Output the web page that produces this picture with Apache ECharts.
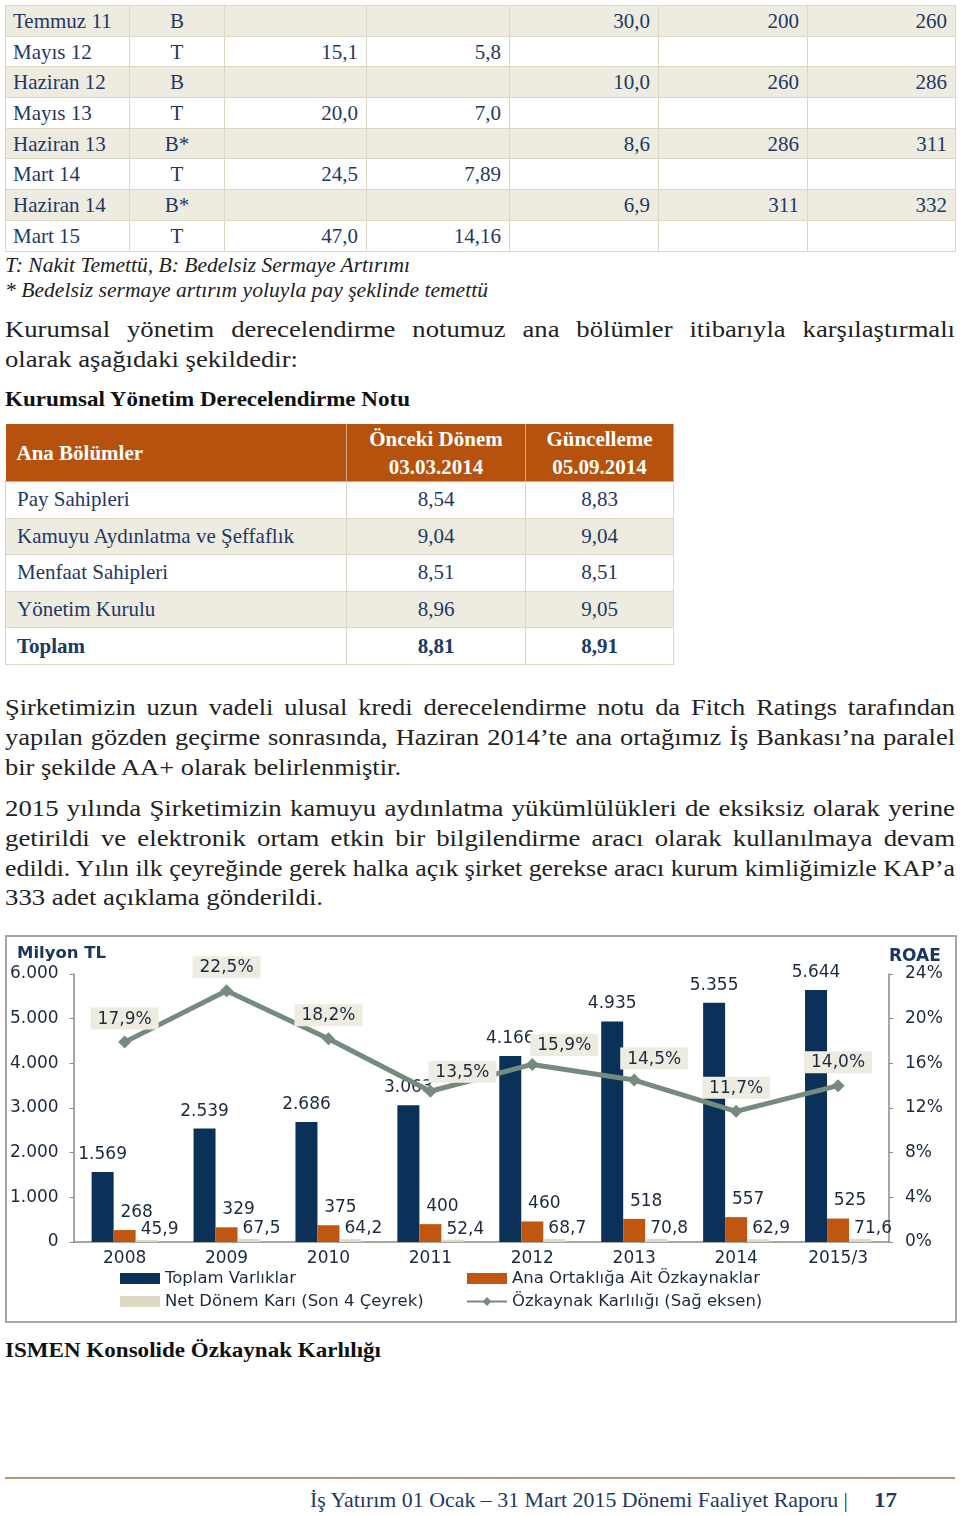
<!DOCTYPE html>
<html><head><meta charset="utf-8">
<script src="https://cdn.jsdelivr.net/npm/echarts@6/dist/echarts.min.js"></script>
<style>
html,body{margin:0;padding:0;}
body{width:960px;height:1516px;background:#fff;position:relative;overflow:hidden;font-family:"Liberation Serif",serif;}
.ln{position:absolute;white-space:nowrap;display:inline-block;left:5px;height:30px;line-height:30px;}
.body{font-size:24px;color:#222;}
table{border-collapse:collapse;position:absolute;table-layout:fixed;}
#t1{left:5px;top:5px;width:950px;font-size:21px;color:#1F3864;}
#t1 td{border:1px solid #DCD8C6;height:29.7px;padding:0 8px;text-align:right;line-height:20px;}
#t1 td:first-child{text-align:left;padding-left:7px;}
#t1 td:nth-child(2){text-align:center;}
#t1 tr:nth-child(odd) td{background:#EEECE1;}
#t2{left:5px;top:424px;width:668px;font-size:21px;color:#1F3864;}
#t2 th{background:#B6520D;color:#fff;font-weight:bold;border:1px solid #D7A27E;border-top:none;line-height:28px;height:57px;padding:0;}
#t2 th:first-child{text-align:left;padding-left:11px;border-left:none;}
#t2 td{border:1px solid #DCD8C6;height:35.6px;padding:0;text-align:center;}
#t2 td:first-child{text-align:left;padding-left:11px;}
#t2 tbody tr:nth-child(even) td{background:#EEECE1;}
#t2 tbody tr:last-child td{font-weight:bold;}
#chart{position:absolute;left:5px;top:935px;width:952px;height:388px;border:2px solid #A6A6A6;box-sizing:border-box;}
</style></head>
<body>
<table id="t1"><colgroup><col style="width:124px"><col style="width:95px"><col style="width:142px"><col style="width:143px"><col style="width:149px"><col style="width:149px"><col style="width:148px"></colgroup><tbody></tbody></table>
<div class="ln" style="top:250px;font-style:italic;font-size:20.5px;color:#222;" data-w="405">T: Nakit Temettü, B: Bedelsiz Sermaye Artırımı</div>
<div class="ln" style="top:275px;font-style:italic;font-size:20.5px;color:#222;" data-w="483">* Bedelsiz sermaye artırım yoluyla pay şeklinde temettü</div>

<div class="ln body" style="top:314px;" data-w="950" data-j="1" data-p="a">Kurumsal yönetim derecelendirme notumuz ana bölümler itibarıyla karşılaştırmalı</div>
<div class="ln body" style="top:344px;" data-w="293" data-last="a">olarak aşağıdaki şekildedir:</div>
<div class="ln" style="top:384px;font-size:22px;font-weight:bold;color:#111;" data-w="405">Kurumsal Yönetim Derecelendirme Notu</div>

<table id="t2"><colgroup><col style="width:341px"><col style="width:179px"><col style="width:148px"></colgroup>
<thead><tr><th>Ana Bölümler</th><th>Önceki Dönem<br>03.03.2014</th><th>Güncelleme<br>05.09.2014</th></tr></thead><tbody></tbody></table>

<div class="ln body" style="top:692px;" data-w="950" data-j="1" data-p="b">Şirketimizin uzun vadeli ulusal kredi derecelendirme notu da Fitch Ratings tarafından</div>
<div class="ln body" style="top:722px;" data-w="950" data-j="1" data-p="b">yapılan gözden geçirme sonrasında, Haziran 2014’te ana ortağımız İş Bankası’na paralel</div>
<div class="ln body" style="top:752px;" data-w="396" data-last="b">bir şekilde AA+ olarak belirlenmiştir.</div>
<div class="ln body" style="top:793px;" data-w="950" data-j="1" data-p="c">2015 yılında Şirketimizin kamuyu aydınlatma yükümlülükleri de eksiksiz olarak yerine</div>
<div class="ln body" style="top:823px;" data-w="950" data-j="1" data-p="c">getirildi ve elektronik ortam etkin bir bilgilendirme aracı olarak kullanılmaya devam</div>
<div class="ln body" style="top:853px;" data-w="950" data-j="1" data-p="c">edildi. Yılın ilk çeyreğinde gerek halka açık şirket gerekse aracı kurum kimliğimizle KAP’a</div>
<div class="ln body" style="top:882px;" data-w="318" data-last="c">333 adet açıklama gönderildi.</div>

<div id="chart"></div>

<div class="ln" style="top:1335px;font-size:22px;font-weight:bold;color:#111;" data-w="376">ISMEN Konsolide Özkaynak Karlılığı</div>
<div style="position:absolute;left:5px;top:1477px;width:950px;height:2px;background:#B99572;"></div>
<div class="ln" style="left:310px;top:1485px;font-size:22px;color:#1F3864;" data-w="538">İş Yatırım 01 Ocak – 31 Mart 2015 Dönemi Faaliyet Raporu |</div>
<div class="ln" style="left:874px;top:1485px;font-size:22px;font-weight:bold;color:#1F3864;" data-w="23">17</div>

<script>
// ---- Table data ----
const temettuRows = [
  ['Temmuz 11','B','','','30,0','200','260'],
  ['Mayıs 12','T','15,1','5,8','','',''],
  ['Haziran 12','B','','','10,0','260','286'],
  ['Mayıs 13','T','20,0','7,0','','',''],
  ['Haziran 13','B*','','','8,6','286','311'],
  ['Mart 14','T','24,5','7,89','','',''],
  ['Haziran 14','B*','','','6,9','311','332'],
  ['Mart 15','T','47,0','14,16','','','']
];
const kyBolumler = ['Pay Sahipleri','Kamuyu Aydınlatma ve Şeffaflık','Menfaat Sahipleri','Yönetim Kurulu','Toplam'];
const kyOnceki = ['8,54','9,04','8,51','8,96','8,81'];
const kyGuncel = ['8,83','9,04','8,51','9,05','8,91'];

// ---- Chart data ----
const years = ['2008','2009','2010','2011','2012','2013','2014','2015/3'];
const toplamVarliklar = [1569, 2539, 2686, 3063, 4166, 4935, 5355, 5644];
const anaOrtaklikOzkaynak = [268, 329, 375, 400, 460, 518, 557, 525];
const netDonemKari = [45.9, 67.5, 64.2, 52.4, 68.7, 70.8, 62.9, 71.6];
const roae = [17.9, 22.5, 18.2, 13.5, 15.9, 14.5, 11.7, 14.0];

// build tables
const tb1 = document.querySelector('#t1 tbody');
temettuRows.forEach(r => {
  const tr = document.createElement('tr');
  r.forEach(c => { const td = document.createElement('td'); td.textContent = c; tr.appendChild(td); });
  tb1.appendChild(tr);
});
const tb2 = document.querySelector('#t2 tbody');
kyBolumler.forEach((b, i) => {
  const tr = document.createElement('tr');
  [b, kyOnceki[i], kyGuncel[i]].forEach(c => { const td = document.createElement('td'); td.textContent = c; tr.appendChild(td); });
  tb2.appendChild(tr);
});

// fit text lines: last lines give the paragraph's horizontal scale, justified lines share it
const els = Array.from(document.querySelectorAll('[data-w]'));
const nat = new Map();
els.forEach(el => nat.set(el, el.getBoundingClientRect().width));
const pScale = {};
els.forEach(el => {
  if (el.dataset.last) pScale[el.dataset.last] = (+el.dataset.w) / nat.get(el);
});
els.forEach(el => {
  const target = +el.dataset.w, w = nat.get(el);
  el.style.transformOrigin = 'left center';
  if (el.dataset.j) {
    let s = pScale[el.dataset.p] || 1;
    if (w * s > target) s = target / w;
    const n = (el.textContent.match(/ /g) || []).length;
    el.style.transform = 'scaleX(' + s + ')';
    el.style.wordSpacing = ((target / s - w) / n) + 'px';
  } else {
    el.style.transform = 'scaleX(' + (target / w) + ')';
  }
});

// ---- Chart ----
const fmtInt = v => String(Math.round(v)).replace(/\B(?=(\d{3})+(?!\d))/g, '.');
const fmtDec1 = v => Number(v).toFixed(1).replace('.', ',');
const txt = '#1B2A3E';
const axisC = '#8A8A8A';
const roaeLabelOffsets = [[0,0],[0,0],[0,0],[32,4],[32,4],[20,2],[0,0],[0,0]];
const lblBase = { show: true, position: 'top', fontSize: 17, color: txt, fontFamily: 'DejaVu Sans' };

const chart = echarts.init(document.getElementById('chart'), null, { renderer: 'canvas' });
chart.setOption({
  animation: false,
  textStyle: { fontFamily: 'DejaVu Sans' },
  title: [
    { text: 'Milyon TL', left: 10, top: 8, padding: 0, textStyle: { fontSize: 16.5, fontWeight: 'bold', color: '#17375E', fontFamily: 'DejaVu Sans' } },
    { text: 'ROAE', left: 882, top: 11, padding: 0, textStyle: { fontSize: 17, fontWeight: 'bold', color: '#17375E', fontFamily: 'DejaVu Sans' } }
  ],
  legend: [
    { left: 113, top: 333, orient: 'vertical', itemGap: 6, itemWidth: 40, itemHeight: 11, padding: 0,
      textStyle: { fontSize: 16.5, color: txt, fontFamily: 'DejaVu Sans' },
      data: [{ name: 'Toplam Varlıklar', icon: 'rect' }, { name: 'Net Dönem Karı (Son 4 Çeyrek)', icon: 'rect' }] },
    { left: 459, top: 333, orient: 'vertical', itemGap: 6, itemWidth: 40, itemHeight: 11, padding: 0,
      textStyle: { fontSize: 16.5, color: txt, fontFamily: 'DejaVu Sans' },
      data: [{ name: 'Ana Ortaklığa Ait Özkaynaklar', icon: 'rect' }, { name: 'Özkaynak Karlılığı (Sağ eksen)' }] }
  ],
  grid: { left: 66, right: 66, top: 37, height: 268 },
  xAxis: {
    type: 'category', data: years,
    axisLine: { lineStyle: { color: axisC, width: 1.5 } },
    axisTick: { length: 6, lineStyle: { color: axisC } },
    axisLabel: { fontSize: 17, color: txt, margin: 8 }
  },
  yAxis: [
    { type: 'value', min: 0, max: 6000, interval: 1000,
      axisLine: { show: true, lineStyle: { color: axisC, width: 1.5 } },
      axisTick: { show: true, length: 4, lineStyle: { color: axisC } },
      splitLine: { show: false },
      axisLabel: { formatter: v => fmtInt(v), fontSize: 17, color: txt, margin: 15 } },
    { type: 'value', min: 0, max: 24, interval: 4, position: 'right',
      axisLine: { show: true, lineStyle: { color: axisC, width: 1.5 } },
      axisTick: { show: true, length: 4, lineStyle: { color: axisC } },
      splitLine: { show: false },
      axisLabel: { formatter: v => v + '%', fontSize: 17, color: txt, margin: 16 } }
  ],
  series: [
    { name: 'Toplam Varlıklar', type: 'bar', data: toplamVarliklar, barWidth: 22, barGap: '0%',
      itemStyle: { color: '#0B3159' },
      label: Object.assign({}, lblBase, { distance: 9, formatter: p => fmtInt(p.value) }) },
    { name: 'Ana Ortaklığa Ait Özkaynaklar', type: 'bar', data: anaOrtaklikOzkaynak, barWidth: 22, barGap: '0%',
      itemStyle: { color: '#C0560F' },
      label: Object.assign({}, lblBase, { distance: 9, offset: [12, 0], formatter: p => fmtInt(p.value) }) },
    { name: 'Net Dönem Karı (Son 4 Çeyrek)', type: 'bar', data: netDonemKari, barWidth: 22, barGap: '0%',
      itemStyle: { color: '#DDD9C4' },
      label: Object.assign({}, lblBase, { distance: 2, offset: [13, 0], formatter: p => fmtDec1(p.value) }) },
    { name: 'Özkaynak Karlılığı (Sağ eksen)', type: 'line', yAxisIndex: 1,
      data: roae.map((v, i) => ({ value: v, label: { offset: roaeLabelOffsets[i] } })),
      symbol: 'diamond', symbolSize: 13,
      lineStyle: { width: 5, color: '#748B7E' }, itemStyle: { color: '#748B7E' },
      label: Object.assign({}, lblBase, { distance: 6, backgroundColor: '#EEECE1', padding: [3, 7, 2, 7], formatter: p => fmtDec1(p.value) + '%' }) }
  ]
});
</script>
</body></html>
